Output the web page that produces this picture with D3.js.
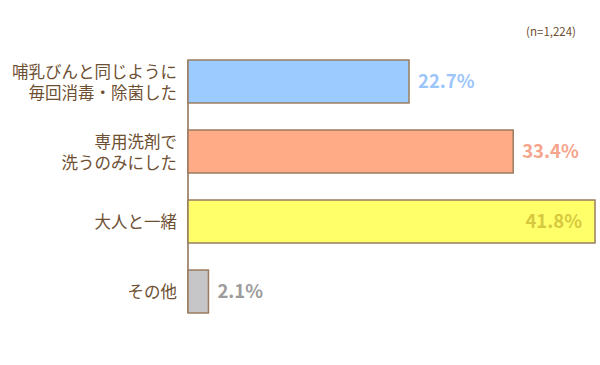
<!DOCTYPE html>
<html>
<head>
<meta charset="utf-8">
<script src="https://cdn.jsdelivr.net/npm/d3@7"></script>
<style>
  body { margin: 0; background: #fff; }
  svg text { font-family: "Noto Sans CJK JP", "Noto Sans", sans-serif; }
</style>
</head>
<body>
<div id="chart"></div>
<script>
var width = 600, height = 365;

const categories = [
  ["哺乳びんと同じように", "毎回消毒・除菌した"],
  ["専用洗剤で", "洗うのみにした"],
  ["大人と一緒"],
  ["その他"]
];
const values = [22.7, 33.4, 41.8, 2.1];
const fills = ["#9ccbff", "#ffab86", "#ffff6a", "#c6c6c8"];
const labelColors = ["#9cc6fb", "#f6a48c", "#d6c83e", "#9c9c9c"];
const inside = [false, false, true, false];
const note = "(n=1,224)";

const svg = d3.select("#chart")
  .append("svg")
  .attr("width", width)
  .attr("height", height);

const x = d3.scaleLinear().domain([0, 41.8]).range([188, 595]);
const y = d3.scaleBand()
  .domain(d3.range(values.length))
  .range([60, 313])
  .paddingInner(0.386)
  .paddingOuter(0);

// axis line
svg.append("line")
  .attr("x1", x(0)).attr("x2", x(0))
  .attr("y1", y(0)).attr("y2", y(values.length - 1) + y.bandwidth())
  .attr("stroke", "#8c6e50")
  .attr("stroke-width", 1.5);

// bars
svg.append("g").selectAll("rect")
  .data(values)
  .enter().append("rect")
  .attr("x", x(0))
  .attr("y", (_, i) => y(i))
  .attr("width", d => x(d) - x(0))
  .attr("height", y.bandwidth())
  .attr("fill", (_, i) => fills[i])
  .attr("stroke", "#9a7c60")
  .attr("stroke-width", 1.5);

// value labels
svg.append("g").selectAll("text")
  .data(values)
  .enter().append("text")
  .attr("x", (d, i) => inside[i] ? x(d) - 13 : x(d) + 9)
  .attr("y", (_, i) => y(i) + y.bandwidth() / 2 + 6.5)
  .attr("text-anchor", (_, i) => inside[i] ? "end" : "start")
  .attr("fill", (_, i) => labelColors[i])
  .attr("font-family", "Arial, 'Liberation Sans', sans-serif")
  .attr("font-weight", "bold")
  .attr("font-size", "18.5px")
  .text(d => d.toFixed(1) + "%");

// category labels
const cat = svg.append("g").selectAll("text")
  .data(categories)
  .enter().append("text")
  .attr("text-anchor", "end")
  .attr("fill", "#6e4f32")
  .attr("font-size", "16.5px")
  .attr("y", (d, i) => y(i) + y.bandwidth() / 2 - (d.length - 1) * 10.5 + 1);

cat.selectAll("tspan")
  .data(d => d)
  .enter().append("tspan")
  .attr("x", 177)
  .attr("dy", (_, j) => j === 0 ? "0.35em" : 21)
  .text(d => d);

svg.append("text")
  .attr("x", 576)
  .attr("y", 36)
  .attr("text-anchor", "end")
  .attr("fill", "#6e4f32")
  .attr("font-size", "11.5px")
  .text(note);
</script>
</body>
</html>
